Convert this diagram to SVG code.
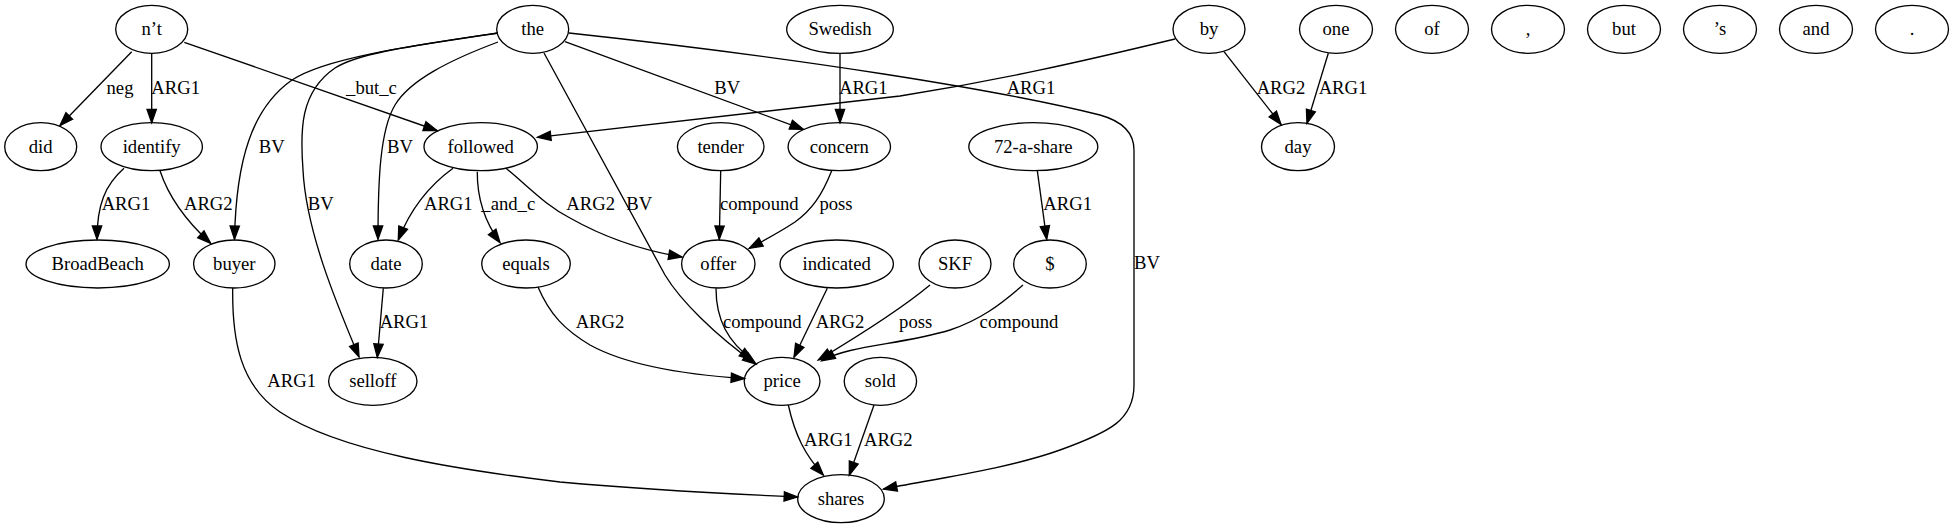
<svg xmlns="http://www.w3.org/2000/svg" width="1953" height="528" viewBox="0 0 1953 528">
<style>
.n ellipse{fill:none;stroke:#000;stroke-width:1.33}
text{font-family:"Liberation Serif","Times New Roman",serif;font-size:18.67px;text-anchor:middle;fill:#000}
.e path{fill:none;stroke:#000;stroke-width:1.33;marker-end:url(#a)}
</style>
<defs>
<marker id="a" markerUnits="userSpaceOnUse" markerWidth="14" markerHeight="10" refX="13.3" refY="4.67" orient="auto" overflow="visible">
<path d="M0,0 L13.3,4.67 L0,9.33 Z" fill="#000" stroke="#000" stroke-width="1.33"/>
</marker>
</defs>
<rect width="1953" height="528" fill="#fff"/>
<g id="edges" class="e">
<path d="M131.7,51.7 L60,125.5"/>
<path d="M151.7,53.3 L151.7,122.7"/>
<path d="M184.3,42.3 L437,130.5"/>
<path d="M498,33 C410,46 325,58 292,80 C252,108 236,160 234.5,239.3"/>
<path d="M498,33 C420,45 360,52 335,68 C300,92 300,130 303,170 C306,230 335,300 359,357"/>
<path d="M498,42 C450,60 410,80 395,105 C380,130 378,180 378,239.3"/>
<path d="M544,53 L665,275 C680,300 715,335 756,364"/>
<path d="M565,41.7 L803.3,129.3"/>
<path d="M569,33 C800,58 1000,90 1100,115 C1125,122 1134,135 1134,150 L1134,385 C1134,420 1110,432 1060,450 C1010,468 940,478 883.5,489"/>
<path d="M840,53.3 L840,122.7"/>
<path d="M1175,39 C1080,62 1000,80 900,96 L537.5,137.3"/>
<path d="M1224,51.7 L1281,124.5"/>
<path d="M1328.3,53.3 L1307,123.3"/>
<path d="M124,168.3 C105,185 97,205 97,239.3"/>
<path d="M160,170.7 C168,195 185,220 210.7,243.3"/>
<path d="M453,168.3 C430,185 410,210 398.3,240"/>
<path d="M477.3,171.7 C477,200 485,222 500,242.7"/>
<path d="M506,168.3 C530,188 545,205 570,218 C600,235 640,250 682,257"/>
<path d="M720.7,170.7 L719.3,239.3"/>
<path d="M831.7,170.7 C822,195 812,210 795,222 C780,232 765,240 749.3,248.3"/>
<path d="M1037.3,170.7 L1046.7,239.3"/>
<path d="M232.7,288 C232,340 240,385 280,412 C340,452 460,470 560,482 C650,490 730,494 797.5,497"/>
<path d="M383.3,288.3 L377.3,357.3"/>
<path d="M538,287 C550,315 565,330 590,345 C630,367 690,375 744.5,378.5"/>
<path d="M716,288.3 C716,320 728,342 752.7,360"/>
<path d="M827.3,288.3 L794,357.3"/>
<path d="M930,285 C900,310 860,335 818.3,360"/>
<path d="M1023,285 C1000,305 980,320 950,330 C900,345 850,345 821.7,360.7"/>
<path d="M788.3,405 C795,435 805,455 823.3,475"/>
<path d="M874,405 L849.3,475"/>
</g>
<g id="edge-labels">
<text x="120" y="94.3">neg</text>
<text x="175.7" y="94.3">ARG1</text>
<text x="371.5" y="94.3">_but_c</text>
<text x="727.3" y="94.3">BV</text>
<text x="863.3" y="94.3">ARG1</text>
<text x="1031" y="94.3">ARG1</text>
<text x="1281" y="94.3">ARG2</text>
<text x="1343" y="94.3">ARG1</text>
<text x="271.7" y="152.7">BV</text>
<text x="400" y="152.7">BV</text>
<text x="126" y="210.3">ARG1</text>
<text x="208.3" y="210.3">ARG2</text>
<text x="320.7" y="210.3">BV</text>
<text x="448.3" y="210.3">ARG1</text>
<text x="508.3" y="210.3">_and_c</text>
<text x="590.7" y="210.3">ARG2</text>
<text x="639.3" y="210.3">BV</text>
<text x="759.3" y="210.3">compound</text>
<text x="836" y="210.3">poss</text>
<text x="1067.7" y="210.3">ARG1</text>
<text x="1147" y="269.3">BV</text>
<text x="404" y="328.3">ARG1</text>
<text x="600" y="328.3">ARG2</text>
<text x="762.3" y="328.3">compound</text>
<text x="840" y="328.3">ARG2</text>
<text x="915.7" y="328.3">poss</text>
<text x="1019" y="328.3">compound</text>
<text x="291.7" y="386.7">ARG1</text>
<text x="828.3" y="446">ARG1</text>
<text x="888.3" y="446">ARG2</text>
</g>
<g id="n_nt" class="n"><ellipse cx="151.7" cy="29.3" rx="36" ry="24"/><text x="151.7" y="35.3">n’t</text></g>
<g id="n_the" class="n"><ellipse cx="532.7" cy="29.3" rx="36" ry="24"/><text x="532.7" y="35.3">the</text></g>
<g id="n_swedish" class="n"><ellipse cx="840" cy="29.3" rx="53.3" ry="24"/><text x="840" y="35.3">Swedish</text></g>
<g id="n_by" class="n"><ellipse cx="1209" cy="29.3" rx="36" ry="24"/><text x="1209" y="35.3">by</text></g>
<g id="n_one" class="n"><ellipse cx="1336" cy="29.3" rx="36.5" ry="24"/><text x="1336" y="35.3">one</text></g>
<g id="n_of" class="n"><ellipse cx="1432" cy="29.3" rx="36.5" ry="24"/><text x="1432" y="35.3">of</text></g>
<g id="n_comma" class="n"><ellipse cx="1528" cy="29.3" rx="36.5" ry="24"/><text x="1528" y="35.3">,</text></g>
<g id="n_but" class="n"><ellipse cx="1624" cy="29.3" rx="36.5" ry="24"/><text x="1624" y="35.3">but</text></g>
<g id="n_s" class="n"><ellipse cx="1720" cy="29.3" rx="36.5" ry="24"/><text x="1720" y="35.3">’s</text></g>
<g id="n_and" class="n"><ellipse cx="1816" cy="29.3" rx="36.5" ry="24"/><text x="1816" y="35.3">and</text></g>
<g id="n_period" class="n"><ellipse cx="1912" cy="29.3" rx="36.5" ry="24"/><text x="1912" y="35.3">.</text></g>
<g id="n_did" class="n"><ellipse cx="40.7" cy="146.7" rx="36" ry="24"/><text x="40.7" y="152.7">did</text></g>
<g id="n_identify" class="n"><ellipse cx="151.7" cy="146.7" rx="50.7" ry="24"/><text x="151.7" y="152.7">identify</text></g>
<g id="n_followed" class="n"><ellipse cx="480.7" cy="146.7" rx="56.7" ry="24"/><text x="480.7" y="152.7">followed</text></g>
<g id="n_tender" class="n"><ellipse cx="720.7" cy="146.7" rx="43.3" ry="24"/><text x="720.7" y="152.7">tender</text></g>
<g id="n_concern" class="n"><ellipse cx="839.3" cy="146.7" rx="51.2" ry="24"/><text x="839.3" y="152.7">concern</text></g>
<g id="n_72ashare" class="n"><ellipse cx="1033.3" cy="146.7" rx="64.5" ry="24"/><text x="1033.3" y="152.7">72-a-share</text></g>
<g id="n_day" class="n"><ellipse cx="1298" cy="146.7" rx="36.5" ry="24"/><text x="1298" y="152.7">day</text></g>
<g id="n_broadbeach" class="n"><ellipse cx="97.7" cy="264" rx="71.7" ry="24"/><text x="97.7" y="270">BroadBeach</text></g>
<g id="n_buyer" class="n"><ellipse cx="234.3" cy="264" rx="40.7" ry="24"/><text x="234.3" y="270">buyer</text></g>
<g id="n_date" class="n"><ellipse cx="386" cy="264" rx="36.3" ry="24"/><text x="386" y="270">date</text></g>
<g id="n_equals" class="n"><ellipse cx="526" cy="264" rx="44.3" ry="24"/><text x="526" y="270">equals</text></g>
<g id="n_offer" class="n"><ellipse cx="718.3" cy="264" rx="36.7" ry="24"/><text x="718.3" y="270">offer</text></g>
<g id="n_indicated" class="n"><ellipse cx="836.7" cy="264" rx="56.7" ry="24"/><text x="836.7" y="270">indicated</text></g>
<g id="n_skf" class="n"><ellipse cx="955" cy="264" rx="36" ry="24"/><text x="955" y="270">SKF</text></g>
<g id="n_dollar" class="n"><ellipse cx="1050" cy="264" rx="36.3" ry="24"/><text x="1050" y="270">$</text></g>
<g id="n_selloff" class="n"><ellipse cx="372.8" cy="381.3" rx="44.2" ry="24"/><text x="372.8" y="387.3">selloff</text></g>
<g id="n_price" class="n"><ellipse cx="782.1" cy="381.3" rx="37.9" ry="24"/><text x="782.1" y="387.3">price</text></g>
<g id="n_sold" class="n"><ellipse cx="880.4" cy="381.3" rx="36.2" ry="24"/><text x="880.4" y="387.3">sold</text></g>
<g id="n_shares" class="n"><ellipse cx="841" cy="498.7" rx="43.3" ry="24"/><text x="841" y="504.7">shares</text></g>
</svg>
